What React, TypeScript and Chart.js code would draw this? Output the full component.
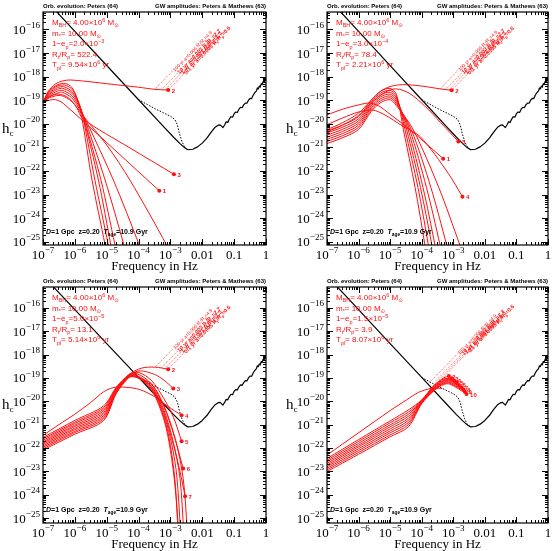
import React, { useEffect, useRef } from "react";
import { Chart, registerables } from "chart.js";
Chart.register(...registerables);

type P = [number, number]; // [log10 f (Hz), log10 h_c]

// ---------- axis ticks ----------
const xTickExps = [-7, -6, -5, -4, -3, -2, -1, 0];
const xTickLabels = ["10^{−7}", "10^{−6}", "10^{−5}", "10^{−4}", "10^{−3}", "0.01", "0.1", "1"];
const yTickExps = [-16, -17, -18, -19, -20, -21, -22, -23, -24, -25];
const yTickLabels = ["10^{−16}", "10^{−17}", "10^{−18}", "10^{−19}", "10^{−20}", "10^{−21}", "10^{−22}", "10^{−23}", "10^{−24}", "10^{−25}"];
const yRangeTop: P = [-25.14, -15.26];
const yRangeBottom: P = [-25.21, -15.11];

// ---------- black sensitivity curve (same in all panels) ----------
const sensSolid: P[] = [
  [-7, -14.63], [-6, -16.08], [-5, -17.53], [-4, -18.98], [-3.2, -20.14], [-2.9, -20.57], [-2.7, -20.84],
  [-2.55, -21.02], [-2.45, -21.1], [-2.3, -21.08], [-2.15, -20.98], [-2.0, -20.82], [-1.85, -20.6],
  [-1.72, -20.35], [-1.6, -20.15], [-1.5, -20.06], [-1.44, -20.05], [-1.4, -20.1], [-1.35, -20.16],
  [-1.3, -20.05], [-1.25, -19.92], [-1.2, -19.94], [-1.15, -19.8], [-1.1, -19.7], [-1.05, -19.72],
  [-1.0, -19.57], [-0.95, -19.5], [-0.9, -19.52], [-0.85, -19.38], [-0.8, -19.3], [-0.75, -19.32],
  [-0.7, -19.2], [-0.65, -19.12], [-0.6, -19.13], [-0.55, -19.0], [-0.5, -18.92], [-0.45, -18.93],
  [-0.4, -18.78], [-0.35, -18.68], [-0.3, -18.6], [-0.27, -18.48], [-0.24, -18.52], [-0.21, -18.4],
  [-0.18, -18.44], [-0.15, -18.3], [-0.12, -18.34], [-0.09, -18.2], [-0.06, -18.24], [-0.03, -18.1], [0, -18.05],
];
const sensDotted: P[] = [
  [-4.0, -18.98], [-3.5, -19.35], [-3.0, -19.68], [-2.86, -19.82], [-2.78, -20.05], [-2.72, -20.4],
  [-2.64, -20.75], [-2.55, -21.0], [-2.45, -21.1],
];

// ---------- top-left panel (1-e_p = 2.0e-3) ----------
const tlCurves: P[][] = [
  [[-7, -19.1], [-6.85, -18.65], [-6.6, -18.3], [-6.25, -18.15], [-5.8, -18.18], [-5, -18.3], [-4, -18.45], [-3.49, -18.54], [-3.07, -18.57]],
  [[-7, -19.1], [-6.8, -19.0], [-6.6, -18.98], [-6.35, -19.15], [-3.35, -22.84]],
  [[-7, -19.1], [-6.8, -18.85], [-6.5, -18.74], [-6.2, -18.9], [-5.95, -19.3], [-5.74, -19.8], [-4.3, -21.0], [-2.89, -22.14]],
  [[-7, -19.1], [-6.8, -18.6], [-6.55, -18.35], [-6.3, -18.29], [-6.1, -18.45], [-5.95, -18.85], [-5.8, -19.6], [-5.46, -22.39], [-5.05, -25.14], [-4.9, -26.2]],
  [[-7, -19.1], [-6.8, -18.65], [-6.55, -18.4], [-6.32, -18.36], [-6.1, -18.52], [-5.92, -18.95], [-5.75, -19.7], [-5.37, -22.39], [-4.95, -25.14], [-4.8, -26.2]],
  [[-7, -19.1], [-6.8, -18.7], [-6.55, -18.47], [-6.35, -18.43], [-6.1, -18.62], [-5.9, -19.05], [-5.72, -19.8], [-5.26, -22.39], [-4.87, -25.14], [-4.72, -26.2]],
  [[-7, -19.1], [-6.8, -18.75], [-6.55, -18.54], [-6.38, -18.5], [-6.1, -18.7], [-5.88, -19.15], [-5.7, -19.85], [-5.18, -22.39], [-4.74, -25.14], [-4.6, -26.0]],
  [[-7, -19.1], [-6.8, -18.8], [-6.55, -18.62], [-6.4, -18.58], [-6.1, -18.8], [-5.85, -19.3], [-5.65, -19.95], [-5.05, -22.39], [-4.46, -25.14], [-4.3, -26.0]],
  [[-7, -19.1], [-6.8, -18.85], [-6.5, -18.68], [-6.4, -18.66], [-6.1, -18.9], [-5.8, -19.5], [-5.6, -20.0], [-4.79, -22.39], [-3.98, -25.14], [-3.8, -25.9]],
  [[-7, -19.1], [-6.8, -18.9], [-6.45, -18.8], [-6.1, -19.05], [-5.75, -19.65], [-5.0, -20.9], [-4.27, -22.39], [-3.12, -25.14], [-2.9, -25.8]],
];
const tlEndLabels = ["2", "1", "3", "", "", "", "", "", "", ""];
const tlAnchors: P[] = [[-3.49, -18.54], [-3.28, -18.555], [-3.17, -18.565], [-3.07, -18.57]];

// ---------- top-right panel (1-e_p = 3.0e-4) ----------
const trCurves: P[][] = [
  [[-7, -20.25], [-6.5, -19.95], [-6, -19.55], [-5.6, -19.0], [-5.3, -18.62], [-5.0, -18.42], [-4.6, -18.34], [-4.0, -18.4], [-3.42, -18.52], [-3.05, -18.58]],
  [[-7, -19.62], [-6.5, -19.38], [-6, -19.2], [-5.65, -19.12], [-5.35, -19.25], [-5.0, -19.6], [-4.37, -20.25], [-3.32, -21.48]],
  [[-7, -20.35], [-6.5, -20.05], [-6, -19.65], [-5.5, -19.0], [-5.1, -18.62], [-4.8, -18.52], [-4.4, -18.7], [-3.9, -19.25], [-3.4, -19.95], [-2.84, -20.75]],
  [[-7, -20.04], [-6.5, -19.75], [-6, -19.5], [-5.55, -19.42], [-5.2, -19.6], [-4.6, -20.1], [-4.05, -20.54], [-3.16, -22.1], [-2.71, -23.09]],
  [[-7, -20.30], [-6.5, -20.05], [-6, -19.70], [-5.6, -19.00], [-5.3, -18.62], [-5.0, -18.50], [-4.8, -18.75], [-4.58, -20.25], [-4.21, -22.7], [-3.90, -25.14], [-3.82, -26]],
  [[-7, -20.39], [-6.5, -20.14], [-6, -19.79], [-5.6, -19.08], [-5.3, -18.70], [-5.0, -18.58], [-4.8, -18.83], [-4.53, -20.25], [-4.12, -22.7], [-3.79, -25.14], [-3.7, -26]],
  [[-7, -20.48], [-6.5, -20.23], [-6, -19.88], [-5.6, -19.16], [-5.3, -18.78], [-5.0, -18.66], [-4.8, -18.91], [-4.48, -20.25], [-4.04, -22.7], [-3.68, -25.14], [-3.58, -26]],
  [[-7, -20.57], [-6.5, -20.32], [-6, -19.97], [-5.6, -19.24], [-5.3, -18.86], [-5.0, -18.74], [-4.8, -18.99], [-4.43, -20.25], [-3.96, -22.7], [-3.58, -25.14], [-3.47, -26]],
  [[-7, -20.66], [-6.5, -20.41], [-6, -20.06], [-5.6, -19.32], [-5.3, -18.94], [-5.0, -18.82], [-4.8, -19.07], [-4.38, -20.25], [-3.85, -22.7], [-3.42, -25.14], [-3.3, -26]],
  [[-7, -20.75], [-6.5, -20.5], [-6, -20.15], [-5.6, -19.4], [-5.3, -19.02], [-5.0, -18.9], [-4.8, -19.15], [-4.33, -20.25], [-3.71, -22.7], [-3.21, -25.14], [-3.05, -26]],
  [[-7, -20.84], [-6.5, -20.59], [-6, -20.24], [-5.6, -19.48], [-5.3, -19.1], [-5.0, -18.98], [-4.8, -19.23], [-4.27, -20.25], [-3.46, -22.7], [-2.79, -25.14], [-2.6, -25.8]],
];
const trEndLabels = ["2", "1", "3", "4", "", "", "", "", "", "", ""];
const trAnchors: P[] = [[-3.42, -18.52], [-3.24, -18.55], [-3.14, -18.565], [-3.05, -18.58]];

// ---------- bottom-left panel (1-e_p = 5.0e-5) ----------
const blCurves: P[][] = [
  [[-7, -21.55], [-6, -20.82], [-5.1, -20.2], [-4.7, -19.4], [-4.3, -18.85], [-3.9, -18.58], [-3.48, -18.54], [-3.07, -18.63]],
  [[-7, -21.61], [-6, -20.89], [-5.1, -20.27], [-4.7, -19.43], [-4.3, -18.87], [-3.95, -18.7], [-3.5, -18.85], [-3.2, -19.1], [-2.91, -19.45]],
  [[-7, -21.46], [-6.5, -21.0], [-6, -20.55], [-5.5, -20.05], [-5.1, -19.6], [-4.8, -19.42], [-4.4, -19.4], [-3.96, -19.5], [-3.5, -19.8], [-3.1, -20.2], [-2.65, -20.6]],
  [[-7, -21.67], [-6, -20.95], [-5.1, -20.34], [-4.7, -19.46], [-4.3, -18.88], [-4.0, -18.77], [-3.6, -19.1], [-3.2, -19.9], [-2.9, -20.7], [-2.65, -21.71]],
  [[-7, -21.73], [-6, -21.02], [-5.1, -20.41], [-4.7, -19.49], [-4.3, -18.9], [-4.05, -18.82], [-3.6, -19.25], [-3.2, -20.25], [-2.9, -21.4], [-2.6, -22.88]],
  [[-7, -21.79], [-6, -21.08], [-5.1, -20.48], [-4.7, -19.52], [-4.3, -18.91], [-4.1, -18.86], [-3.6, -19.35], [-3.2, -20.5], [-2.9, -21.9], [-2.7, -23.0], [-2.54, -24.07]],
  [[-7, -21.85], [-6, -21.15], [-5.1, -20.55], [-4.7, -19.55], [-4.3, -18.93], [-4.1, -18.9], [-3.6, -19.45], [-3.2, -20.7], [-3.0, -21.9], [-2.85, -23.5], [-2.76, -25.6]],
  [[-7, -21.91], [-6, -21.21], [-5.1, -20.62], [-4.7, -19.58], [-4.3, -18.94], [-4.1, -18.92], [-3.6, -19.5], [-3.2, -20.8], [-3.0, -22.1], [-2.85, -23.7], [-2.73, -25.8]],
  [[-7, -21.97], [-6, -21.28], [-5.1, -20.69], [-4.7, -19.61], [-4.3, -18.96], [-4.1, -18.93], [-3.6, -19.42], [-3.2, -20.6], [-2.95, -21.9], [-2.8, -23.2], [-2.68, -25.6]],
  [[-7, -22.03], [-6, -21.34], [-5.1, -20.76], [-4.7, -19.64], [-4.3, -18.97], [-4.1, -18.95], [-3.6, -19.35], [-3.2, -20.4], [-2.9, -21.8], [-2.7, -23.3], [-2.58, -25.6]],
  [[-7, -22.09], [-6, -21.41], [-5.1, -20.83], [-4.7, -19.67], [-4.3, -18.98], [-4.1, -18.97], [-3.6, -19.25], [-3.2, -20.2], [-2.85, -21.6], [-2.6, -23.3], [-2.47, -25.5]],
];
const blEndLabels = ["2", "3", "4", "5", "6", "7", "", "", "", "", ""];
const blAnchors: P[] = [[-3.48, -18.54], [-3.28, -18.57], [-3.17, -18.6], [-3.07, -18.63]];

// ---------- bottom-right panel (1-e_p = 1.5e-5) ----------
const brCurves: P[][] = [
  [[-7, -22.45], [-6, -21.64], [-5, -20.84], [-4.42, -20.37], [-4.0, -19.94], [-3.6, -19.30], [-3.3, -19.00], [-3.14, -18.92]],
  [[-7, -22.52], [-6, -21.72], [-5, -20.92], [-4.42, -20.46], [-4.0, -19.96], [-3.6, -19.33], [-3.3, -19.04], [-3.05, -19.02]],
  [[-7, -22.59], [-6, -21.80], [-5, -21.01], [-4.42, -20.55], [-4.0, -19.98], [-3.6, -19.36], [-3.3, -19.07], [-3.1, -19.03], [-2.97, -19.12]],
  [[-7, -22.66], [-6, -21.88], [-5, -21.09], [-4.42, -20.64], [-4.0, -20.00], [-3.6, -19.39], [-3.3, -19.11], [-3.1, -19.07], [-2.89, -19.2]],
  [[-7, -22.73], [-6, -21.95], [-5, -21.18], [-4.42, -20.73], [-4.0, -20.02], [-3.6, -19.42], [-3.3, -19.14], [-3.1, -19.11], [-2.82, -19.3]],
  [[-7, -22.80], [-6, -22.03], [-5, -21.27], [-4.42, -20.82], [-4.0, -20.04], [-3.6, -19.45], [-3.3, -19.18], [-3.1, -19.15], [-2.75, -19.4]],
  [[-7, -22.87], [-6, -22.11], [-5, -21.35], [-4.42, -20.91], [-4.0, -20.06], [-3.6, -19.48], [-3.3, -19.21], [-3.1, -19.19], [-2.68, -19.49]],
  [[-7, -22.94], [-6, -22.19], [-5, -21.44], [-4.42, -21.00], [-4.0, -20.08], [-3.6, -19.51], [-3.3, -19.25], [-3.1, -19.23], [-2.63, -19.59]],
  [[-7, -23.01], [-6, -22.27], [-5, -21.52], [-4.42, -21.09], [-4.0, -20.10], [-3.6, -19.54], [-3.3, -19.28], [-3.1, -19.27], [-2.58, -19.69]],
  [[-7, -22.3], [-6, -21.35], [-5, -20.4], [-4.48, -19.94], [-4.1, -19.62], [-3.7, -19.45], [-3.35, -19.45]],
];
const brEndLabels = ["2", "3", "4", "5", "6", "7", "8", "9", "10", ""];
const brAnchors: P[] = [[-3.75, -19.2], [-3.55, -19.12], [-3.45, -19.08], [-3.35, -19.03]];

// ---------- text ----------
const eccLabels = ["2.0×10^{−3}", "3.0×10^{−4}", "5.0×10^{−5}", "1.5×10^{−5}"];
const rtLabels = ["522.4", "78.4", "13.1", "3.9"];
const tplLabels = ["9.54×10^{6}", "2.21×10^{6}", "5.14×10^{6}", "8.07×10^{6}"];
const annoTexts = [
  "100 yr a=0.006 R_{t}/R_{p}=4.9",
  "10 yr a=0.003 R_{t}/R_{p}=2.7",
  "1 yr a=0.001 R_{t}/R_{p}=1.3",
  "0.1 yr a=0.0005 R_{t}/R_{p}=0.6",
];
const headerLeft = "Orb. evolution: Peters (64)";
const headerRight = "GW amplitudes: Peters & Mathews (63)";
const footText = "~{D}=1 Gpc  z=0.20  ~{T}_{age}=10.9 Gyr";
const xTitle = "Frequency in Hz";

const RED = "#ff1010";
const SERIF = "'Liberation Serif', 'DejaVu Serif', serif";
const SANS = "'Liberation Sans', 'DejaVu Sans', sans-serif";

const PANELS = [
  { curves: tlCurves, labels: tlEndLabels, anchors: tlAnchors, annoLen: 26, yr: yRangeTop, left: 0, top: 0, w: 276, h: 275, pad: { top: 12, right: 10, left: 43, bottom: 30 } },
  { curves: trCurves, labels: trEndLabels, anchors: trAnchors, annoLen: 26, yr: yRangeTop, left: 276, top: 0, w: 277, h: 275, pad: { top: 12, right: 5, left: 51, bottom: 30 } },
  { curves: blCurves, labels: blEndLabels, anchors: blAnchors, annoLen: 26, yr: yRangeBottom, left: 0, top: 275, w: 276, h: 276, pad: { top: 12, right: 10, left: 43, bottom: 28 } },
  { curves: brCurves, labels: brEndLabels, anchors: brAnchors, annoLen: 40, yr: yRangeBottom, left: 276, top: 275, w: 277, h: 276, pad: { top: 12, right: 5, left: 51, bottom: 28 } },
];

// ---------- rich text helper: _{sub} ^{sup} ~{italic} ----------
type Seg = { t: string; mode: number; it: boolean };
function parseRich(s: string): Seg[] {
  const out: Seg[] = [];
  let buf = "";
  let i = 0;
  const flush = () => { if (buf) { out.push({ t: buf, mode: 0, it: false }); buf = ""; } };
  while (i < s.length) {
    const c = s[i];
    if ((c === "_" || c === "^" || c === "~") && s[i + 1] === "{") {
      flush();
      const j = s.indexOf("}", i + 2);
      out.push({ t: s.slice(i + 2, j), mode: c === "_" ? -1 : c === "^" ? 1 : 0, it: c === "~" });
      i = j + 1;
    } else { buf += c; i++; }
  }
  flush();
  return out;
}
function richWidth(ctx: CanvasRenderingContext2D, s: string, size: number, family: string, weight = "normal", scale = 0.68) {
  let w = 0;
  for (const g of parseRich(s)) {
    const sz = g.mode ? size * scale : size;
    ctx.font = `${g.it ? "italic " : ""}${weight} ${sz}px ${family}`;
    w += ctx.measureText(g.t).width;
  }
  return w;
}
function drawRich(ctx: CanvasRenderingContext2D, s: string, x: number, y: number, size: number, family: string, weight = "normal", scale = 0.68, rise = 0.42) {
  let cx = x;
  for (const g of parseRich(s)) {
    const sz = g.mode ? size * scale : size;
    ctx.font = `${g.it ? "italic " : ""}${weight} ${sz}px ${family}`;
    const dy = g.mode === -1 ? size * 0.3 : g.mode === 1 ? -size * rise : 0;
    ctx.fillText(g.t, cx, y + dy);
    cx += ctx.measureText(g.t).width;
  }
}

function Panel({ idx }: { idx: number }) {
  const ref = useRef<HTMLCanvasElement>(null);
  const cfg = PANELS[idx];
  useEffect(() => {
    if (!ref.current) return;
    const toXY = (pts: P[]) => pts.map(([lx, ly]) => ({ x: Math.pow(10, lx), y: Math.pow(10, ly) }));
    const datasets: any[] = cfg.curves.map((pts, i) => ({
      data: toXY(pts),
      borderColor: RED,
      borderWidth: 1,
      tension: 0.3,
      fill: false,
      pointRadius: pts.map((_, j) => (j === pts.length - 1 && cfg.labels[i] ? 2 : 0)),
      pointBackgroundColor: RED,
      pointBorderWidth: 0,
      pointHoverRadius: 0,
    }));

    // black sensitivity curve, drawn under the red tracks through the chart's own scales
    const sensitivity = {
      id: "sens" + idx,
      beforeDatasetsDraw(chart: any) {
        const { ctx, chartArea: a } = chart;
        const xs = chart.scales.x;
        const ys = chart.scales.y;
        ctx.save();
        ctx.beginPath();
        ctx.rect(a.left, a.top, a.right - a.left, a.bottom - a.top);
        ctx.clip();
        const stroke = (pts: P[]) => {
          ctx.beginPath();
          pts.forEach(([lx, ly], i) => {
            const px = xs.getPixelForValue(Math.pow(10, lx));
            const py = ys.getPixelForValue(Math.pow(10, ly));
            if (i === 0) ctx.moveTo(px, py); else ctx.lineTo(px, py);
          });
          ctx.stroke();
        };
        ctx.strokeStyle = "#000";
        ctx.lineJoin = "round";
        ctx.lineWidth = 1.2;
        ctx.setLineDash([]);
        stroke(sensSolid);
        ctx.lineWidth = 1;
        ctx.setLineDash([1.5, 1.5]);
        stroke(sensDotted);
        ctx.restore();
      },
    };

    const decor = {
      id: "decor" + idx,
      afterDraw(chart: any) {
        const { ctx, chartArea: a } = chart;
        const xs = chart.scales.x;
        const ys = chart.scales.y;
        ctx.save();
        // inward tick marks on all four sides
        ctx.strokeStyle = "#000";
        ctx.lineWidth = 1;
        ctx.beginPath();
        for (let e = -7; e <= 0; e++) {
          for (let m = 1; m <= 9; m++) {
            if (e === 0 && m > 1) break;
            const px = Math.round(xs.getPixelForValue(m * Math.pow(10, e))) + 0.5;
            const len = m === 1 ? 6 : 3;
            ctx.moveTo(px, a.bottom); ctx.lineTo(px, a.bottom - len);
            ctx.moveTo(px, a.top); ctx.lineTo(px, a.top + len);
          }
        }
        for (let e = -26; e <= -15; e++) {
          for (let m = 1; m <= 9; m++) {
            const v = m * Math.pow(10, e);
            if (v < ys.min || v > ys.max) continue;
            const py = Math.round(ys.getPixelForValue(v)) + 0.5;
            const len = m === 1 ? 6 : 3;
            ctx.moveTo(a.left, py); ctx.lineTo(a.left + len, py);
            ctx.moveTo(a.right, py); ctx.lineTo(a.right - len, py);
          }
        }
        ctx.stroke();
        ctx.lineWidth = 1.2;
        ctx.strokeRect(a.left, a.top, a.right - a.left, a.bottom - a.top);

        // tick labels
        ctx.fillStyle = "#000";
        ctx.textBaseline = "alphabetic";
        ctx.textAlign = "left";
        xTickExps.forEach((e, i) => {
          const px = xs.getPixelForValue(Math.pow(10, e));
          const w = richWidth(ctx, xTickLabels[i], 13, SERIF, "normal", 0.7);
          drawRich(ctx, xTickLabels[i], px - w / 2, a.bottom + 13.5, 13, SERIF, "normal", 0.7, 0.45);
        });
        yTickExps.forEach((e, i) => {
          const py = ys.getPixelForValue(Math.pow(10, e));
          const w = richWidth(ctx, yTickLabels[i], 13, SERIF, "normal", 0.7);
          drawRich(ctx, yTickLabels[i], a.left - 3 - w, py + 4.5, 13, SERIF, "normal", 0.7, 0.45);
        });
        // x title
        ctx.font = `13px ${SERIF}`;
        ctx.textAlign = "center";
        ctx.fillText(xTitle, (a.left + a.right) / 2, a.bottom + 25);
        ctx.textAlign = "left";
        // y title h_c
        const cy = (a.top + a.bottom) / 2;
        ctx.font = `15px ${SERIF}`;
        ctx.fillText("h", a.left - 41, cy + 4);
        ctx.font = `9px ${SERIF}`;
        ctx.fillText("c", a.left - 33.5, cy + 7);

        // headers
        ctx.font = `bold 6px ${SANS}`;
        ctx.fillText(headerLeft, a.left, a.top - 4);
        ctx.textAlign = "right";
        ctx.fillText(headerRight, a.right, a.top - 4);
        ctx.textAlign = "left";

        // footer text
        drawRich(ctx, footText, a.left + 3, a.bottom - 11.5, 7, SANS, "bold");

        // parameter block
        ctx.fillStyle = RED;
        const info = [
          "M_{BH}= 4.00×10^{6} M_{⊙}",
          "m_{*}= 10.00 M_{⊙}",
          "1−e_{p}=" + eccLabels[idx],
          "R_{t}/R_{p}= " + rtLabels[idx],
          "T_{pl}= " + tplLabels[idx] + " yr",
        ];
        info.forEach((s, i) => drawRich(ctx, s, a.left + 9, a.top + 13 + i * 10.6, 8, SANS));

        // end-point labels
        cfg.curves.forEach((pts, i) => {
          const lab = cfg.labels[i];
          if (!lab) return;
          const [lx, ly] = pts[pts.length - 1];
          const px = xs.getPixelForValue(Math.pow(10, lx));
          const py = ys.getPixelForValue(Math.pow(10, ly));
          ctx.font = `bold 6px ${SANS}`;
          ctx.fillText(lab, px + 3.5, py + 2.5);
        });

        // rotated time annotations with dotted leaders
        const ang = (-46 * Math.PI) / 180;
        cfg.anchors.forEach(([lx, ly], i) => {
          const px = xs.getPixelForValue(Math.pow(10, lx));
          const py = ys.getPixelForValue(Math.pow(10, ly));
          const L = cfg.annoLen - (i === 0 ? 0 : 3);
          const ex = px + L * Math.cos(ang);
          const ey = py + L * Math.sin(ang);
          ctx.strokeStyle = RED;
          ctx.lineWidth = 0.7;
          ctx.setLineDash([1, 1.2]);
          ctx.beginPath();
          ctx.moveTo(px, py);
          ctx.lineTo(ex, ey);
          ctx.stroke();
          ctx.setLineDash([]);
          ctx.save();
          ctx.translate(ex + 1, ey);
          ctx.rotate(ang);
          drawRich(ctx, annoTexts[i], 0, 1.5, i === 0 ? 4.8 : 5.5, SANS, i === 0 ? "normal" : "bold");
          ctx.restore();
        });
        ctx.restore();
      },
    };

    const chart = new Chart(ref.current, {
      type: "line",
      data: { datasets },
      options: {
        animation: false,
        responsive: false,
        maintainAspectRatio: false,
        devicePixelRatio: 1,
        events: [],
        layout: { padding: cfg.pad },
        plugins: { legend: { display: false }, tooltip: { enabled: false } },
        scales: {
          x: { type: "logarithmic", min: 1e-7, max: 1, bounds: "data", display: false },
          y: { type: "logarithmic", min: Math.pow(10, cfg.yr[0]), max: Math.pow(10, cfg.yr[1]), bounds: "data", display: false },
        },
      } as any,
      plugins: [sensitivity, decor],
    });
    return () => chart.destroy();
  }, []);
  return (
    <canvas
      ref={ref}
      width={cfg.w}
      height={cfg.h}
      style={{ position: "absolute", left: cfg.left, top: cfg.top, width: cfg.w, height: cfg.h }}
    />
  );
}

export default function App() {
  return (
    <div style={{ position: "absolute", left: 0, top: 0, width: 553, height: 551, background: "#fff", overflow: "hidden" }}>
      {PANELS.map((_, i) => (
        <Panel key={i} idx={i} />
      ))}
    </div>
  );
}
